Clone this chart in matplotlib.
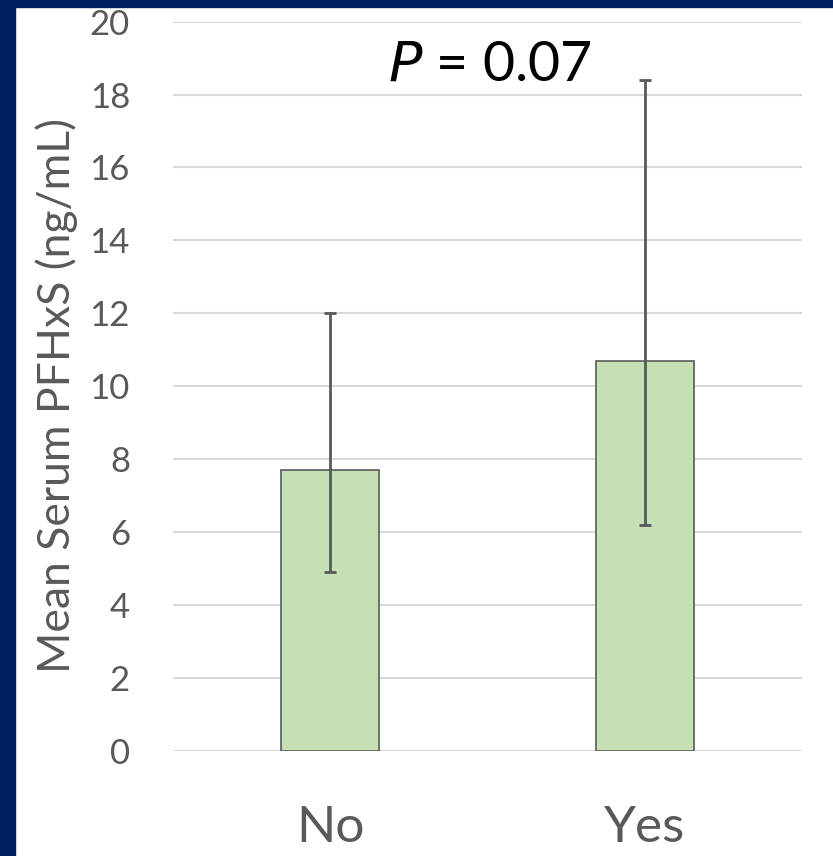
import matplotlib
matplotlib.use("Agg")
import matplotlib.pyplot as plt
import matplotlib.patches as mpatches
import numpy as np

categories = ["No", "Yes"]
means = [7.7, 10.7]
ci_low = [4.9, 6.2]
ci_high = [12.0, 18.4]
y_ticks = [0, 2, 4, 6, 8, 10, 12, 14, 16, 18, 20]

GRAY = "#595959"
NAVY = "#001F5F"

plt.rcParams["font.family"] = ["Lato", "DejaVu Sans"]

fig = plt.figure(figsize=(8.33, 8.56), dpi=100)
fig.patch.set_facecolor("white")

# navy slide frame on the left and top
fig.patches.append(mpatches.Rectangle((0, 0), 15 / 833, 1, transform=fig.transFigure,
                                      color=NAVY, zorder=0))
fig.patches.append(mpatches.Rectangle((0, 1 - 7 / 856), 1, 7 / 856, transform=fig.transFigure,
                                      color=NAVY, zorder=0))

ax = fig.add_axes([173 / 833, 0.123, (802 - 173) / 833, 0.9747 - 0.123])
x = np.arange(len(categories))
means_arr = np.array(means)
yerr = [means_arr - np.array(ci_low), np.array(ci_high) - means_arr]

ax.bar(x, means, width=0.313, color="#C5E0B4", edgecolor=GRAY, linewidth=1.2, zorder=2)
ax.errorbar(x, means, yerr=yerr, fmt="none", ecolor=GRAY, elinewidth=2,
            capsize=4, capthick=2, zorder=3)

ax.set_xlim(-0.5, 1.5)
ax.set_ylim(0, 20)
ax.set_yticks(y_ticks)
ax.set_xticks(x)
ax.set_xticklabels(categories)
for yv in y_ticks:
    ax.axhline(yv, color="#D9D9D9", linewidth=1.5, zorder=1)

for s in ax.spines.values():
    s.set_visible(False)
ax.tick_params(axis="y", length=0, pad=31, labelsize=25, labelcolor=GRAY)
ax.tick_params(axis="x", length=0, pad=39, labelsize=37, labelcolor=GRAY)

ax.set_ylabel("Mean Serum PFHxS (ng/mL)", fontsize=32, color=GRAY)
ax.yaxis.set_label_coords(-0.151, 0.487)

ax.text(0.503, 0.94, r"$\it{P}$ = 0.07", transform=ax.transAxes, ha="center",
        va="center", fontsize=40, color="black")

fig.savefig("out.png", dpi=100)
